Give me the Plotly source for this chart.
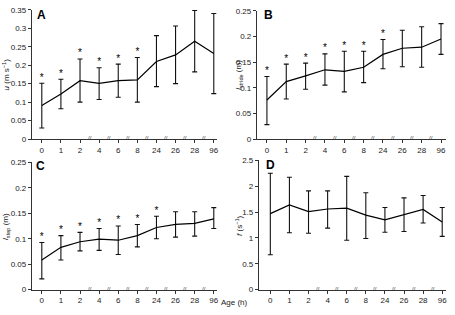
import plotly.graph_objects as go

ages = ["0", "1", "2", "4", "6", "8", "24", "26", "28", "96"]

u_mean = [0.091, 0.122, 0.158, 0.151, 0.158, 0.160, 0.210, 0.228, 0.265, 0.232]
u_hi = [0.151, 0.162, 0.217, 0.193, 0.203, 0.221, 0.280, 0.306, 0.348, 0.340]
u_lo = [0.030, 0.082, 0.100, 0.107, 0.113, 0.100, 0.142, 0.150, 0.182, 0.123]
u_star = [1, 1, 1, 1, 1, 1, 0, 0, 0, 0]

stride_mean = [0.076, 0.112, 0.123, 0.135, 0.132, 0.140, 0.165, 0.177, 0.179, 0.195]
stride_hi = [0.122, 0.146, 0.148, 0.166, 0.171, 0.171, 0.194, 0.212, 0.219, 0.225]
stride_lo = [0.028, 0.078, 0.097, 0.105, 0.092, 0.110, 0.137, 0.141, 0.140, 0.165]
stride_star = [1, 1, 1, 1, 1, 1, 1, 0, 0, 0]

step_mean = [0.058, 0.083, 0.094, 0.099, 0.097, 0.106, 0.122, 0.128, 0.130, 0.139]
step_hi = [0.0925, 0.106, 0.1125, 0.120, 0.125, 0.128, 0.144, 0.153, 0.153, 0.161]
step_lo = [0.021, 0.058, 0.076, 0.077, 0.069, 0.084, 0.100, 0.103, 0.105, 0.120]
step_star = [1, 1, 1, 1, 1, 1, 1, 0, 0, 0]

f_mean = [1.47, 1.64, 1.51, 1.56, 1.575, 1.44, 1.35, 1.45, 1.55, 1.31]
f_hi = [2.25, 2.175, 1.91, 1.91, 2.19, 1.875, 1.59, 1.775, 1.82, 1.59]
f_lo = [0.675, 1.10, 1.09, 1.19, 0.956, 0.99, 1.11, 1.125, 1.29, 1.03]
f_star = [0] * 10

W, H = 455, 315
FONT = "Liberation Sans, Arial, sans-serif"
TXT = "#222222"

def px(x):
    return x / W

def py(y):
    return 1 - y / H

panels = [
    dict(m=u_mean, hi=u_hi, lo=u_lo, st=u_star, xd=(32, 218), yd=(6, 139),
         xr=[-0.52, 9.17], yr=[0, 0.35], dt=0.05, title="<i>u</i> (m s<sup>−1</sup>)",
         tx=6, letter="A", lx=35, ly=2),
    dict(m=stride_mean, hi=stride_hi, lo=stride_lo, st=stride_star, xd=(258, 448), yd=(7, 139),
         xr=[-0.52, 9.26], yr=[0, 0.25], dt=0.05, title="<i>l</i><sub>stride</sub> (m)",
         tx=240, letter="B", lx=263, ly=2),
    dict(m=step_mean, hi=step_hi, lo=step_lo, st=step_star, xd=(32, 218), yd=(163, 294),
         xr=[-0.52, 9.17], yr=[0, 0.25], dt=0.05, title="<i>l</i><sub>step</sub> (m)",
         tx=6, letter="C", lx=34, ly=157),
    dict(m=f_mean, hi=f_hi, lo=f_lo, st=f_star, xd=(260, 448), yd=(161, 294),
         xr=[-0.6, 9.2], yr=[0, 2.5], dt=0.5, title="<i>f</i> (s<sup>−1</sup>)",
         tx=240, letter="D", lx=265, ly=156),
]

fig = go.Figure()
annotations = []
xs = list(range(len(ages)))

for i, p in enumerate(panels, start=1):
    xa = "x" if i == 1 else f"x{i}"
    ya = "y" if i == 1 else f"y{i}"
    plus = [h - m for h, m in zip(p["hi"], p["m"])]
    minus = [m - l for m, l in zip(p["m"], p["lo"])]
    fig.add_trace(go.Scatter(
        x=xs, y=p["m"], mode="lines", xaxis=xa, yaxis=ya,
        line=dict(color="black", width=1.2),
        error_y=dict(type="data", symmetric=False, array=plus, arrayminus=minus,
                     color="#111111", thickness=1.1, width=2.5),
        showlegend=False, hoverinfo="skip"))
    sx = [x for x, s in zip(xs, p["st"]) if s]
    sy = [h for h, s in zip(p["hi"], p["st"]) if s]
    if sx:
        fig.add_trace(go.Scatter(
            x=sx, y=sy, mode="text", text=["*"] * len(sx), textposition="top center",
            textfont=dict(family=FONT, size=10, color="black"),
            xaxis=xa, yaxis=ya, showlegend=False, hoverinfo="skip"))
    xkey = "xaxis" if i == 1 else f"xaxis{i}"
    ykey = "yaxis" if i == 1 else f"yaxis{i}"
    fig.update_layout({
        xkey: dict(domain=[px(p["xd"][0]), px(p["xd"][1])], anchor=ya, range=p["xr"],
                   tickmode="array", tickvals=xs, ticktext=ages, ticks="outside", ticklen=3,
                   tickwidth=1, tickcolor="#333", showline=True, linecolor="#333", linewidth=1,
                   showgrid=False, zeroline=False, tickfont=dict(family=FONT, size=8, color=TXT)),
        ykey: dict(domain=[py(p["yd"][1]), py(p["yd"][0])], anchor=xa, range=p["yr"],
                   dtick=p["dt"], tick0=0, ticks="outside", ticklen=3, tickwidth=1,
                   tickcolor="#333", showline=True, linecolor="#333", linewidth=1,
                   showgrid=False, zeroline=False, tickfont=dict(family=FONT, size=8, color=TXT)),
    })
    for k in range(2, 9):
        annotations.append(dict(x=k + 0.5, y=0, xref=xa, yref=ya, text="//", showarrow=False,
                                font=dict(family=FONT, size=6, color="#333"),
                                xanchor="center", yanchor="middle", yshift=1))
    annotations.append(dict(x=px(p["tx"]), y=py((p["yd"][0] + p["yd"][1]) / 2), xref="paper",
                            yref="paper", text=p["title"], textangle=-90, showarrow=False,
                            font=dict(family=FONT, size=8, color=TXT),
                            xanchor="center", yanchor="middle"))
    annotations.append(dict(x=px(p["lx"]), y=py(p["ly"]), xref="paper", yref="paper",
                            text="<b>" + p["letter"] + "</b>", showarrow=False,
                            font=dict(family=FONT, size=12, color="black"),
                            xanchor="left", yanchor="top"))

annotations.append(dict(x=px(236), y=py(307), xref="paper", yref="paper", text="Age (h)",
                        showarrow=False, font=dict(family=FONT, size=8, color=TXT),
                        xanchor="center", yanchor="middle"))

fig.update_layout(width=W, height=H, margin=dict(l=0, r=0, t=0, b=0),
                  paper_bgcolor="white", plot_bgcolor="white", annotations=annotations)

fig.write_html("out.html")
